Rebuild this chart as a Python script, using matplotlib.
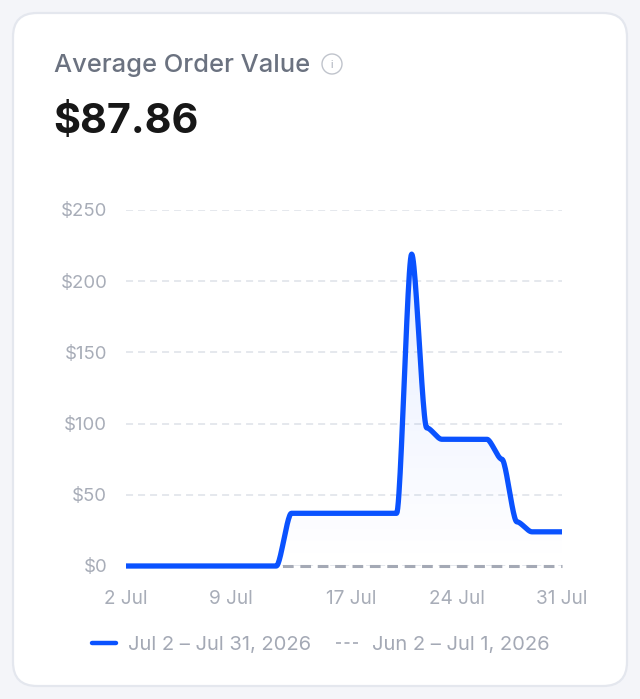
import numpy as np
import matplotlib
matplotlib.use("Agg")
import matplotlib.pyplot as plt
from matplotlib.patches import FancyBboxPatch, Circle, PathPatch, Rectangle
from matplotlib.path import Path

plt.rcParams['font.family'] = ['Inter', 'DejaVu Sans']

days = list(range(2, 32))
current = [0, 0, 0, 0, 0, 0, 0, 0, 0, 0, 0,
           37, 37, 37, 37, 37, 37, 37, 37,
           219, 97, 89, 89, 89, 89, 75, 31, 24, 24, 24]
previous = [0] * 30
yticks = [0, 50, 100, 150, 200, 250]
xticks = [2, 9, 17, 24, 31]
xticklabels = ['2 Jul', '9 Jul', '17 Jul', '24 Jul', '31 Jul']
title = 'Average Order Value'
value = '$87.86'
label_current = 'Jul 2 – Jul 31, 2026'
label_previous = 'Jun 2 – Jul 1, 2026'

BLUE = '#0a52ff'
W, H = 640, 699
fig = plt.figure(figsize=(W / 100, H / 100), dpi=100, facecolor='#f4f5f9')

bg = fig.add_axes([0, 0, 1, 1], zorder=0)
bg.set_xlim(0, W); bg.set_ylim(H, 0); bg.axis('off')
bg.add_patch(FancyBboxPatch((13, 13), 614, 673, boxstyle='round,pad=0,rounding_size=24',
                            fc='white', ec='#e4e7ee', lw=1.6))
bg.text(54, 65.6, title, fontsize=18.4, color='#6b7280', va='center', ha='left', fontweight='medium')
bg.text(53.5, 122, value, fontsize=29.8, color='#171717', va='center', ha='left', fontweight='bold')
bg.add_patch(Circle((332, 64), 10, fc='none', ec='#c0c4cc', lw=1.0))
bg.text(332, 64.5, 'i', fontsize=7, color='#9ca3af', va='center', ha='center')

L, R, T, B = 126, 562, 210, 566
ax = fig.add_axes([L / W, 1 - B / H, (R - L) / W, (B - T) / H], zorder=1)
ax.patch.set_alpha(0)
ax.set_xlim(2, 31)
ax.set_ylim(0, 250)
for s in ax.spines.values():
    s.set_visible(False)
ax.set_yticks(yticks, [f'${v}' for v in yticks])
ax.set_xticks(xticks, xticklabels)
ax.tick_params(length=0, labelcolor='#a8adb8')
ax.tick_params(axis='y', pad=13.5, labelsize=13.4)
ax.tick_params(axis='x', pad=17.5, labelsize=13.7)
ax.grid(axis='y', color='#e3e6ec', lw=1.3, dashes=(3.9, 2.75))
ax.set_axisbelow(True)


def flat_tangent_curve(x, y, f=0.28, n=24):
    """Cubic Bézier through the points, level at each point; f sets how far the level part runs."""
    x, y = np.asarray(x, float), np.asarray(y, float)
    xs, ys = [], []
    t = np.linspace(0, 1, n, endpoint=False)
    b0, b1, b2, b3 = (1-t)**3, 3*t*(1-t)**2, 3*t**2*(1-t), t**3
    for i in range(len(x) - 1):
        h = x[i+1] - x[i]
        xs.append(b0*x[i] + b1*(x[i] + f*h) + b2*(x[i+1] - f*h) + b3*x[i+1])
        ys.append(b0*y[i] + b1*y[i] + b2*y[i+1] + b3*y[i+1])
    return np.r_[np.concatenate(xs), x[-1]], np.r_[np.concatenate(ys), y[-1]]


cx, cy = flat_tangent_curve(days, current)

# soft gradient below the line
grad = np.zeros((256, 2, 4))
grad[..., :3] = matplotlib.colors.to_rgb(BLUE)
grad[..., 3] = np.linspace(0.10, 0.0, 256)[:, None]
im = ax.imshow(grad, extent=(2, 31, 0, max(current)), origin='upper', aspect='auto', zorder=1.5)
verts = np.r_[np.c_[cx, cy], [[31, 0], [2, 0]]]
clip = PathPatch(Path(verts), transform=ax.transData, fc='none', ec='none')
ax.add_patch(clip)
im.set_clip_path(clip)
ax.set_xlim(2, 31); ax.set_ylim(0, 250)

ax.plot(days, previous, color='#a4a9b5', lw=2.2, dashes=(3.5, 2.19), label=label_previous,
        zorder=2, clip_on=False, dash_capstyle='butt')
ax.plot(cx, cy, color=BLUE, lw=3.8, label=label_current, zorder=3, clip_on=False,
        solid_capstyle='butt', solid_joinstyle='round')

handles, labels = ax.get_legend_handles_labels()
leg = ax.legend(handles[::-1], labels[::-1], ncol=2, frameon=False, fontsize=14.5,
                labelcolor='#a4a9b5', loc='center left',
                bbox_to_anchor=(92 / W, 1 - 645 / H), bbox_transform=fig.transFigure,
                borderaxespad=0, borderpad=0, handlelength=1.2, handletextpad=0.6,
                columnspacing=1.22)
leg.get_lines()[0].set_linewidth(3.2)
leg.get_lines()[0].set_solid_capstyle('round')
leg.get_lines()[1].set_linewidth(1.2)
leg.get_lines()[1].set_dashes((3, 2.1))

# the last tick label is cut off by the edge of the chart container
top = fig.add_axes([0, 0, 1, 1], zorder=2)
top.set_xlim(0, W); top.set_ylim(H, 0); top.axis('off')
top.add_patch(Rectangle((585.5, 585), 20, 30, fc='white', ec='none'))

fig.savefig('out.png', dpi=100, facecolor=fig.get_facecolor())
